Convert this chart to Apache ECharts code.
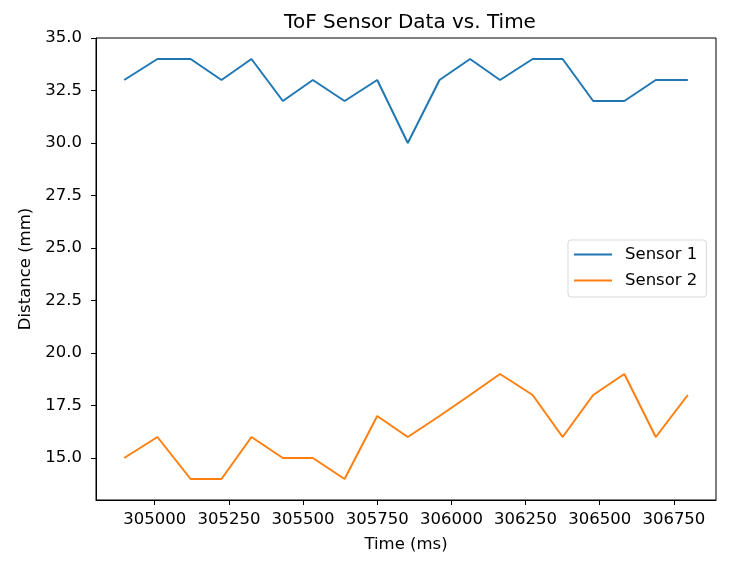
<!DOCTYPE html>
<html>
<head>
<meta charset="utf-8">
<script src="https://cdn.jsdelivr.net/npm/echarts@6/dist/echarts.min.js"></script>
<style>html,body{margin:0;padding:0;background:#fff}#c{width:746px;height:562px}</style>
</head>
<body>
<div id="c"></div>
<script>
var times = [304897, 305009, 305121, 305225, 305326, 305432, 305533, 305640, 305750, 305853, 305960, 306063, 306164, 306274, 306375, 306478, 306583, 306689, 306797];
var sensor1 = [33, 34, 34, 33, 34, 32, 33, 32, 33, 30, 33, 34, 33, 34, 34, 32, 32, 33, 33];
var sensor2 = [15, 16, 14, 14, 16, 15, 15, 14, 17, 16, 17, 18, 19, 18, 16, 18, 19, 16, 18];
var xTicks = [305000, 305250, 305500, 305750, 306000, 306250, 306500, 306750];
var yTicks = [15, 17.5, 20, 22.5, 25, 27.5, 30, 32.5, 35];

function pairs(xs, ys){ return xs.map(function(x,i){ return [x, ys[i]]; }); }
var F = 'DejaVu Sans';
var FS = 16.5;
var chart = echarts.init(document.getElementById('c'), null, {renderer:'canvas'});
chart.setOption({
  animation: false,
  backgroundColor: '#fff',
  title: {
    text: 'ToF Sensor Data vs. Time', left: 405, top: 8, textAlign: 'center',
    textStyle: {fontFamily: F, fontSize: 20, fontWeight: 'normal', color: '#000'}
  },
  grid: {left: 96, right: 30, top: 38, bottom: 62, show: true, borderColor: '#000', borderWidth: 1, backgroundColor: 'transparent'},
  legend: {
    orient: 'vertical', left: 568, top: 240,
    data: ['Sensor 1', 'Sensor 2'],
    icon: 'rect', itemWidth: 38, itemHeight: 2, itemGap: 9,
    padding: [6, 9, 8, 6],
    borderColor: '#d9d9d9', borderWidth: 1, borderRadius: 3, backgroundColor: '#fff',
    textStyle: {fontFamily: F, fontSize: FS, color: '#000', padding: [0,0,0,8]}
  },
  xAxis: {
    type: 'value', min: 304802, max: 306892,
    name: 'Time (ms)', nameLocation: 'middle', nameGap: 36,
    nameTextStyle: {fontFamily: F, fontSize: FS, color: '#000'},
    axisLine: {show: true, onZero: false, lineStyle: {color: '#000', width: 1}},
    axisTick: {show: true, length: 5, customValues: xTicks, lineStyle: {color: '#000'}},
    axisLabel: {customValues: xTicks, fontFamily: F, fontSize: FS, color: '#000', margin: 11,
      formatter: function(v){ return String(v); }},
    splitLine: {show: false}
  },
  yAxis: {
    type: 'value', min: 13, max: 35,
    name: 'Distance (mm)', nameLocation: 'middle', nameGap: 59, nameRotate: 90,
    nameTextStyle: {fontFamily: F, fontSize: FS, color: '#000'},
    axisLine: {show: true, onZero: false, lineStyle: {color: '#000', width: 1}},
    axisTick: {show: true, length: 5, customValues: yTicks, lineStyle: {color: '#000'}},
    axisLabel: {customValues: yTicks, fontFamily: F, fontSize: FS, color: '#000', margin: 14,
      formatter: function(v){ return v.toFixed(1); }},
    splitLine: {show: false}
  },
  series: [
    {name: 'Sensor 1', type: 'line', data: pairs(times, sensor1), showSymbol: false, symbol: 'none',
     lineStyle: {color: '#1f77b4', width: 2}, itemStyle: {color: '#1f77b4'}},
    {name: 'Sensor 2', type: 'line', data: pairs(times, sensor2), showSymbol: false, symbol: 'none',
     lineStyle: {color: '#ff7f0e', width: 2}, itemStyle: {color: '#ff7f0e'}}
  ]
});
</script>
</body>
</html>
